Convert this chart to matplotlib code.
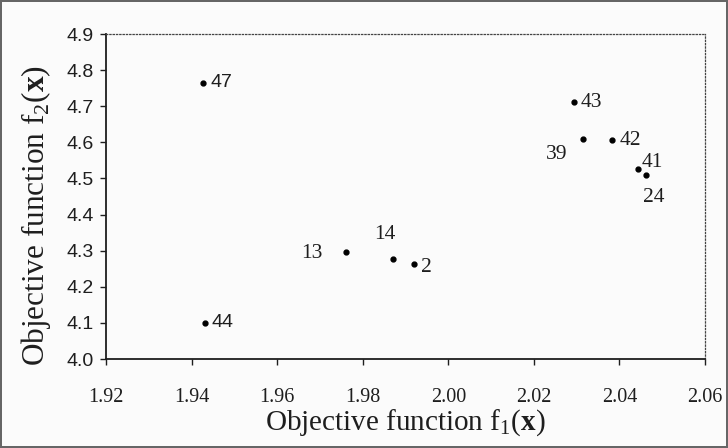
import matplotlib
matplotlib.use("Agg")
import matplotlib.pyplot as plt
from matplotlib.ticker import FormatStrFormatter, MultipleLocator

# data
point_ids = ["47", "44", "13", "14", "2", "43", "39", "42", "41", "24"]
f1_values = [1.9427, 1.9431, 1.9762, 1.9871, 1.9920, 2.0294, 2.0314, 2.0383, 2.0443, 2.0463]
f2_values = [4.765, 4.100, 4.297, 4.276, 4.263, 4.711, 4.609, 4.607, 4.526, 4.509]

# label offsets in pixels (dx, dy) and alignment
label_offsets = {
    "47": (7, 0, "left", "center"),
    "44": (7, 0, "left", "center"),
    "13": (-24, -2, "right", "center"),
    "14": (-8, 25, "center", "center"),
    "2": (7, -3, "left", "center"),
    "43": (7, 0, "left", "center"),
    "39": (-15, -15, "right", "center"),
    "42": (7, -1, "left", "center"),
    "41": (4, 7, "left", "center"),
    "24": (7, -22, "center", "center"),
}
sans_labels = ["47", "44"]

serif = ["Liberation Serif", "DejaVu Serif"]
sans = ["Liberation Sans", "DejaVu Sans"]
ink = "#1e1e1e"

plt.rcParams["font.family"] = serif
plt.rcParams["mathtext.fontset"] = "custom"
plt.rcParams["mathtext.rm"] = "Liberation Serif"
plt.rcParams["mathtext.bf"] = "Liberation Serif:bold"

fig = plt.figure(figsize=(7.28, 4.48), dpi=100)
fig.patch.set_facecolor("#fbfbfb")
fig.patch.set_edgecolor("#666666")
fig.patch.set_linewidth(1.5)

ax = fig.add_axes([106 / 728, 1 - 359 / 448, (705 - 106) / 728, (359 - 34) / 448])
ax.set_facecolor("#fbfbfb")

ax.plot(f1_values, f2_values, "o", color="black", markersize=3.5, linestyle="none")

for pid, x, y in zip(point_ids, f1_values, f2_values):
    dx, dy, ha, va = label_offsets[pid]
    if pid in sans_labels:
        fam, size = sans, 14
    else:
        fam, size = serif, 15.5
    ax.annotate(pid, (x, y), xytext=(dx, dy), textcoords="offset pixels",
                ha=ha, va=va, fontsize=size, family=fam, color=ink)

ax.set_xlim(1.92, 2.06)
ax.set_ylim(4.0, 4.9)
ax.xaxis.set_major_locator(MultipleLocator(0.02))
ax.yaxis.set_major_locator(MultipleLocator(0.1))
ax.xaxis.set_major_formatter(FormatStrFormatter("%.2f"))
ax.yaxis.set_major_formatter(FormatStrFormatter("%.1f"))
ax.tick_params(direction="out", length=4, width=1, colors=ink)
ax.tick_params(axis="x", pad=17, labelsize=14.5)
ax.tick_params(axis="y", pad=5, labelsize=14)
for lbl in ax.get_yticklabels():
    lbl.set_family(sans)

for side in ["left", "bottom"]:
    ax.spines[side].set_linewidth(1.3)
    ax.spines[side].set_color(ink)
for side in ["top", "right"]:
    ax.spines[side].set_linewidth(0.9)
    ax.spines[side].set_linestyle(":")
    ax.spines[side].set_color("#444444")

ax.set_xlabel(r"Objective function f$_1$($\mathbf{x}$)", fontsize=21, labelpad=0, color=ink)
ax.set_ylabel(r"Objective function f$_2$($\mathbf{x}$)", fontsize=22.5, color=ink)
ax.yaxis.set_label_coords(-0.089, 0.44)

fig.savefig("out.png", dpi=100, facecolor=fig.get_facecolor(), edgecolor=fig.get_edgecolor())
